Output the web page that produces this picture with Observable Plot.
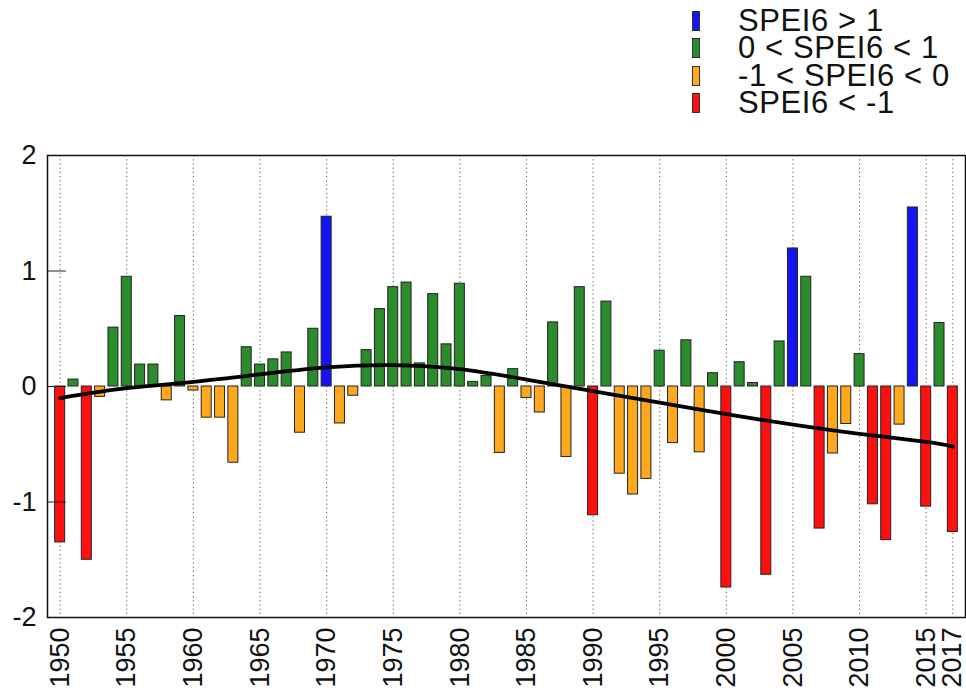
<!DOCTYPE html>
<html>
<head>
<meta charset="utf-8">
<script src="https://cdn.jsdelivr.net/npm/d3@7"></script>
<script src="https://cdn.jsdelivr.net/npm/@observablehq/plot@0.6"></script>
<style>
  html, body { margin: 0; padding: 0; background: #fff; }
  #wrap { position: relative; width: 966px; height: 694px; font-family: "Liberation Sans", Arial, sans-serif; }
  #legend { position: absolute; left: 692px; top: 7px; }
  .row { display: flex; align-items: center; height: 27.5px; }
  .sw { width: 6px; height: 18px; border: 1px solid #333; margin-right: 38px; }
  .lab { font-size: 31px; color: #111; white-space: nowrap; letter-spacing: 0.6px; }
</style>
</head>
<body>
<div id="wrap"><div id="chart"></div><div id="legend"></div></div>
<script>
const years = [1950,1951,1952,1953,1954,1955,1956,1957,1958,1959,
  1960,1961,1962,1963,1964,1965,1966,1967,1968,1969,
  1970,1971,1972,1973,1974,1975,1976,1977,1978,1979,
  1980,1981,1982,1983,1984,1985,1986,1987,1988,1989,
  1990,1991,1992,1993,1994,1995,1996,1997,1998,1999,
  2000,2001,2002,2003,2004,2005,2006,2007,2008,2009,
  2010,2011,2012,2013,2014,2015,2016,2017];
const spei6 = [-1.35,0.06,-1.50,-0.09,0.51,0.95,0.19,0.19,-0.12,0.61,
  -0.035,-0.27,-0.27,-0.66,0.34,0.19,0.235,0.295,-0.40,0.50,
  1.47,-0.32,-0.08,0.315,0.67,0.86,0.90,0.20,0.80,0.365,
  0.89,0.04,0.09,-0.575,0.15,-0.10,-0.225,0.555,-0.61,0.86,
  -1.115,0.735,-0.755,-0.935,-0.80,0.31,-0.49,0.40,-0.57,0.115,
  -1.74,0.21,0.03,-1.63,0.39,1.195,0.95,-1.23,-0.58,-0.325,
  0.28,-1.02,-1.33,-0.33,1.55,-1.04,0.55,-1.26];
const trendYears = [1950,1955,1960,1965,1970,1975,1980,1985,1990,1995,2000,2005,2010,2015,2017];
const trendValues = [-0.10,-0.015,0.04,0.105,0.165,0.185,0.15,0.06,-0.04,-0.14,-0.24,-0.33,-0.41,-0.48,-0.52];
const categories = ["SPEI6 > 1","0 < SPEI6 < 1","-1 < SPEI6 < 0","SPEI6 < -1"];
const colors = ["#1414f5","#2a8c2a","#ffa81e","#ff1010"];
const xTicks = [1950,1955,1960,1965,1970,1975,1980,1985,1990,1995,2000,2005,2010,2015,2017];
const yTicks = [-2,-1,0,1,2];

const category = v => v > 1 ? categories[0] : v > 0 ? categories[1] : v > -1 ? categories[2] : categories[3];
const data = years.map((y, i) => ({year: y, value: spei6[i], cat: category(spei6[i])}));
const trend = trendYears.map((y, i) => ({year: y, value: trendValues[i]}));
const half = 0.375;

const tickShape = {draw(context, l) { context.moveTo(0, 0); context.lineTo(0, -l); }};

const chart = Plot.plot({
  width: 966,
  height: 694,
  marginTop: 155,
  marginBottom: 77,
  marginLeft: 47,
  marginRight: 1,
  style: {fontFamily: "'Liberation Sans', Arial, sans-serif", color: "#111", background: "#fff"},
  x: {type: "linear", domain: [1949.05, 2017.95]},
  y: {domain: [-2, 2]},
  color: {domain: categories, range: colors},
  marks: [
    Plot.ruleX(xTicks, {stroke: "#555", strokeWidth: 1, strokeDasharray: "1.2,3"}),
    Plot.rectY(data, {x1: d => d.year - half, x2: d => d.year + half, y: "value", fill: "cat", stroke: "#222", strokeWidth: 1}),
    Plot.line(trend, {x: "year", y: "value", curve: "natural", stroke: "#000", strokeWidth: 3.8}),
    Plot.vector(yTicks, {y: d => d, frameAnchor: "left", length: 18, rotate: 90, anchor: "start", shape: tickShape, stroke: "#222", strokeWidth: 1.2}),
    Plot.axisY(yTicks, {label: null, tickSize: 0, tickPadding: 11, fontSize: 27, tickFormat: d => String(d)}),
    Plot.axisX(xTicks, {label: null, tickSize: 0, tickPadding: 10, tickRotate: -90, fontSize: 27, tickFormat: d => String(d)}),
    Plot.frame({stroke: "#111", strokeWidth: 1.5})
  ]
});
document.getElementById("chart").appendChild(chart);

const legend = document.getElementById("legend");
categories.forEach((c, i) => {
  const row = document.createElement("div");
  row.className = "row";
  const sw = document.createElement("div");
  sw.className = "sw";
  sw.style.background = colors[i];
  const lab = document.createElement("div");
  lab.className = "lab";
  lab.textContent = c;
  row.appendChild(sw);
  row.appendChild(lab);
  legend.appendChild(row);
});
</script>
</body>
</html>
